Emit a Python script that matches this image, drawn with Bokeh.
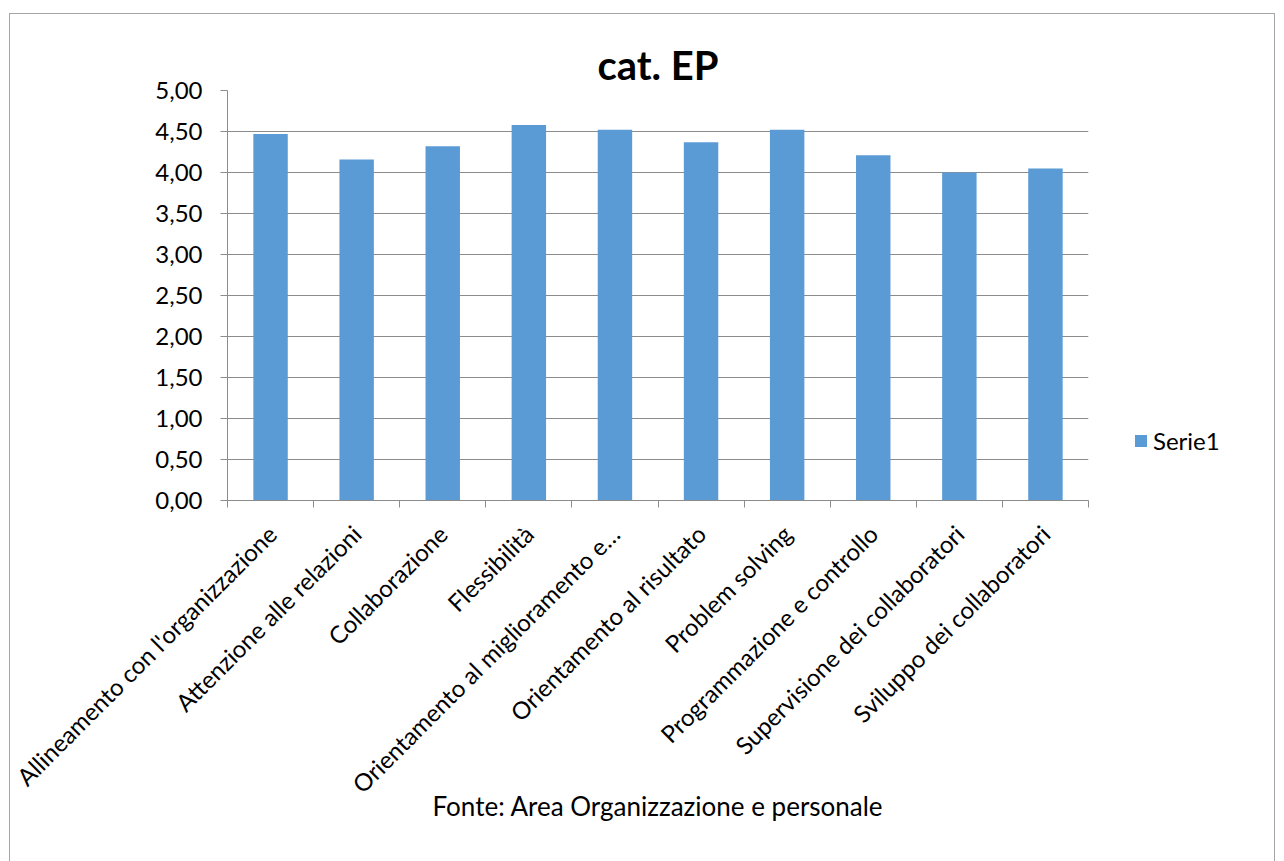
import math
from bokeh.plotting import figure
from bokeh.models import Range1d, FixedTicker, Legend, LegendItem
from bokeh.embed import file_html
from bokeh.resources import INLINE

# ---- data ----
categories = [
    "Allineamento con l'organizzazione",
    "Attenzione alle relazioni",
    "Collaborazione",
    "Flessibilità",
    "Orientamento al miglioramento e…",
    "Orientamento al risultato",
    "Problem solving",
    "Programmazione e controllo",
    "Supervisione dei collaboratori",
    "Sviluppo dei collaboratori",
]
values = [4.47, 4.16, 4.32, 4.58, 4.52, 4.37, 4.52, 4.21, 4.00, 4.05]
series_name = "Serie1"
y_ticks = [0.0, 0.5, 1.0, 1.5, 2.0, 2.5, 3.0, 3.5, 4.0, 4.5, 5.0]
y_tick_labels = ["0,00", "0,50", "1,00", "1,50", "2,00", "2,50",
                 "3,00", "3,50", "4,00", "4,50", "5,00"]
title_text = "cat. EP"
x_axis_title = "Fonte: Area Organizzazione e personale"

FONT = "Lato"
BAR = "#5b9bd5"
GRID = "#8c8c8c"
TXT = "#000000"

n = len(categories)
x_pos = [i + 0.5 for i in range(n)]
x_bounds = [float(i) for i in range(n + 1)]

p = figure(frame_width=861, frame_height=410, output_backend="svg",
           toolbar_location=None,
           x_range=Range1d(0, n), y_range=Range1d(y_ticks[0], y_ticks[-1]),
           min_border_left=217, min_border_right=186,
           min_border_top=76, min_border_bottom=366)
p.margin = (13, 0, 0, 9)
p.styles = {"border": "1px solid #a6a6a6", "width": "1264px",
            "height": "852px", "overflow": "hidden",
            "box-sizing": "content-box"}
p.outline_line_color = None
p.background_fill_color = "white"
p.border_fill_color = "white"

r = p.vbar(x=x_pos, top=values, width=0.4, bottom=0,
           fill_color=BAR, line_color=None)

# title
p.title.text = title_text
p.title.align = "center"
p.title.text_font = FONT
p.title.text_font_size = "40px"
p.title.text_font_style = "bold"
p.title.text_color = TXT
p.title.standoff = 4

# x axis
xa = p.xaxis[0]
xa.ticker = FixedTicker(ticks=x_pos, minor_ticks=x_bounds)
xa.major_label_overrides = {x: c for x, c in zip(x_pos, categories)}
xa.major_label_orientation = math.pi / 4
xa.major_tick_out = 0
xa.major_tick_in = 0
xa.minor_tick_out = 7
xa.minor_tick_in = 0
xa.minor_tick_line_color = GRID
xa.axis_line_color = GRID
xa.major_label_text_font = FONT
xa.major_label_text_font_size = "24px"
xa.major_label_text_color = TXT
xa.major_label_standoff = 22
xa.axis_label = x_axis_title
xa.axis_label_text_font = FONT
xa.axis_label_text_font_size = "26px"
xa.axis_label_text_font_style = "normal"
xa.axis_label_text_color = TXT
xa.axis_label_standoff = -22

# y axis
ya = p.yaxis[0]
ya.ticker = FixedTicker(ticks=y_ticks)
ya.major_label_overrides = {t: l for t, l in zip(y_ticks, y_tick_labels)}
ya.major_tick_out = 7
ya.major_tick_in = 0
ya.minor_tick_line_color = None
ya.major_tick_line_color = GRID
ya.axis_line_color = GRID
ya.major_label_text_font = FONT
ya.major_label_text_font_size = "24px"
ya.major_label_text_color = TXT
ya.major_label_standoff = 18

p.xgrid.visible = False
p.ygrid.grid_line_color = GRID
p.ygrid.grid_line_width = 1

legend = Legend(items=[LegendItem(label=series_name, renderers=[r])],
                location="bottom_left", glyph_width=15, glyph_height=15,
                label_standoff=5, padding=0, margin=45, spacing=0,
                border_line_color=None, background_fill_alpha=0,
                label_text_font=FONT, label_text_font_size="24px",
                label_text_color=TXT)
p.add_layout(legend, "right")

open("out.html", "w").write(file_html(p, INLINE))
